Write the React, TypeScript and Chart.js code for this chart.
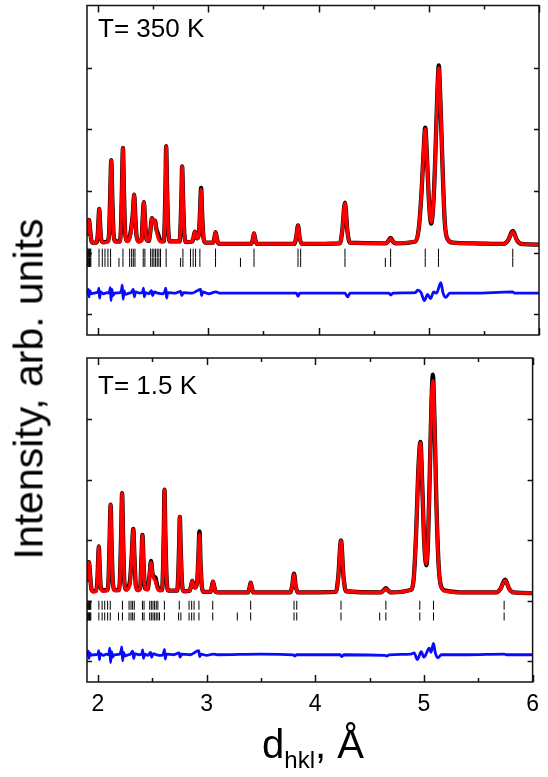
import React, { useEffect, useRef } from "react";
import { Chart, registerables } from "chart.js";

Chart.register(...registerables);

const FONT = "'Liberation Sans', Arial, Helvetica, sans-serif";

const X_MIN = 1.9;
const X_MAX = 6.0;
const Y_MIN = -1.34;
const Y_MAX = 4.015;
const xMajorTicks = [2, 3, 4, 5, 6];
const xMinorTicks = [2.5, 3.5, 4.5, 5.5];
const yTicks = [-1, 0, 1, 2, 3];

// ---------- T = 350 K ----------
const hotD = [
  1.900, 1.910, 1.918, 1.928, 1.940, 1.955, 1.985, 1.998, 2.005, 2.011,
  2.018, 2.028, 2.045, 2.085, 2.100, 2.110, 2.120, 2.130, 2.142, 2.160,
  2.195, 2.208, 2.217, 2.226, 2.235, 2.247, 2.265, 2.285, 2.300, 2.315,
  2.328, 2.338, 2.350, 2.370, 2.395, 2.405, 2.416, 2.427, 2.440, 2.460,
  2.475, 2.489, 2.503, 2.516, 2.530, 2.545, 2.565, 2.595, 2.605, 2.612,
  2.618, 2.626, 2.638, 2.655, 2.740, 2.750, 2.757, 2.763, 2.771, 2.783,
  2.800, 2.855, 2.868, 2.878, 2.888, 2.900, 2.915, 2.925, 2.935, 2.945,
  2.958, 2.975, 3.045, 3.057, 3.066, 3.076, 3.090, 3.110, 3.390, 3.405,
  3.415, 3.425, 3.440, 3.780, 3.798, 3.814, 3.828, 3.848, 4.195, 4.215,
  4.240, 4.262, 4.285, 4.610, 4.630, 4.654, 4.675, 4.700, 4.880, 4.910,
  4.935, 4.952, 4.968, 4.985, 5.003, 5.022, 5.045, 5.062, 5.078, 5.091,
  5.105, 5.125, 5.145, 5.170, 5.220, 5.400, 5.680, 5.720, 5.762, 5.800,
  5.840, 6.000,
];
const hotCalc = [
  0.30, 0.45, 0.53, 0.38, 0.19, 0.16, 0.16, 0.30, 0.55, 0.71,
  0.50, 0.22, 0.16, 0.17, 0.30, 0.90, 1.50, 0.85, 0.28, 0.17,
  0.17, 0.40, 1.05, 1.70, 1.00, 0.30, 0.18, 0.22, 0.35, 0.62,
  0.94, 0.60, 0.25, 0.17, 0.20, 0.55, 0.82, 0.50, 0.20, 0.19,
  0.35, 0.56, 0.50, 0.52, 0.35, 0.24, 0.18, 0.18, 0.50, 1.10,
  1.73, 1.05, 0.35, 0.18, 0.18, 0.50, 0.95, 1.40, 0.90, 0.30,
  0.17, 0.18, 0.26, 0.34, 0.28, 0.23, 0.30, 0.65, 1.02, 0.60,
  0.22, 0.16, 0.16, 0.25, 0.33, 0.25, 0.15, 0.14, 0.14, 0.22,
  0.31, 0.22, 0.14, 0.14, 0.25, 0.44, 0.25, 0.14, 0.15, 0.35,
  0.80, 0.35, 0.16, 0.15, 0.18, 0.23, 0.18, 0.15, 0.18, 0.40,
  1.00, 1.60, 2.01, 1.50, 0.80, 0.49, 0.90, 1.70, 2.60, 3.00,
  2.50, 1.40, 0.50, 0.22, 0.16, 0.15, 0.14, 0.20, 0.34, 0.20,
  0.14, 0.13,
];
const hotObs = [
  0.30, 0.45, 0.53, 0.38, 0.19, 0.16, 0.16, 0.30, 0.55, 0.71,
  0.50, 0.22, 0.17, 0.18, 0.30, 0.90, 1.50, 0.85, 0.28, 0.18,
  0.18, 0.40, 1.05, 1.70, 1.00, 0.30, 0.19, 0.24, 0.38, 0.62,
  0.94, 0.60, 0.26, 0.18, 0.20, 0.55, 0.82, 0.50, 0.21, 0.19,
  0.35, 0.56, 0.50, 0.52, 0.38, 0.30, 0.19, 0.18, 0.50, 1.10,
  1.73, 1.05, 0.35, 0.18, 0.18, 0.50, 0.95, 1.40, 0.90, 0.30,
  0.17, 0.18, 0.26, 0.34, 0.28, 0.23, 0.30, 0.65, 1.05, 0.60,
  0.22, 0.16, 0.16, 0.25, 0.33, 0.25, 0.15, 0.14, 0.14, 0.22,
  0.31, 0.22, 0.14, 0.14, 0.25, 0.44, 0.25, 0.14, 0.15, 0.35,
  0.81, 0.35, 0.16, 0.15, 0.18, 0.24, 0.18, 0.15, 0.18, 0.40,
  1.00, 1.60, 2.03, 1.50, 0.80, 0.47, 0.90, 1.70, 2.60, 3.04,
  2.50, 1.40, 0.50, 0.22, 0.16, 0.15, 0.14, 0.20, 0.35, 0.20,
  0.14, 0.13,
];
const hotDiffD = [
  1.900, 1.912, 1.918, 1.925, 1.940, 1.960, 2.000, 2.008, 2.014, 2.022,
  2.050, 2.080, 2.100, 2.112, 2.118, 2.126, 2.135, 2.150, 2.200, 2.214,
  2.220, 2.228, 2.236, 2.250, 2.280, 2.300, 2.320, 2.330, 2.340, 2.380,
  2.405, 2.412, 2.420, 2.432, 2.460, 2.485, 2.495, 2.510, 2.540, 2.590,
  2.608, 2.615, 2.622, 2.632, 2.700, 2.750, 2.760, 2.775, 2.850, 2.930,
  2.940, 2.950, 3.000, 3.070, 3.100, 3.800, 3.814, 3.830, 4.240, 4.265,
  4.285, 4.640, 4.655, 4.675, 4.880, 4.900, 4.930, 4.960, 4.990, 5.015,
  5.045, 5.070, 5.110, 5.130, 5.155, 5.190, 5.400, 5.760, 5.780, 6.000,
];
const hotDiff = [
  -0.66, -0.60, -0.72, -0.62, -0.67, -0.66, -0.64, -0.58, -0.74, -0.64,
  -0.67, -0.65, -0.66, -0.57, -0.78, -0.60, -0.70, -0.66, -0.65, -0.60,
  -0.53, -0.76, -0.62, -0.68, -0.66, -0.65, -0.60, -0.72, -0.64, -0.66,
  -0.64, -0.58, -0.72, -0.65, -0.67, -0.62, -0.70, -0.64, -0.66, -0.67,
  -0.62, -0.58, -0.74, -0.65, -0.66, -0.63, -0.70, -0.65, -0.66, -0.60,
  -0.70, -0.64, -0.67, -0.64, -0.66, -0.66, -0.71, -0.66, -0.66, -0.72,
  -0.66, -0.66, -0.69, -0.66, -0.65, -0.61, -0.65, -0.78, -0.68, -0.75,
  -0.64, -0.66, -0.49, -0.66, -0.73, -0.66, -0.66, -0.64, -0.66, -0.66,
];
const hotBraggA = [
  1.900, 1.905, 1.911, 1.917, 1.923, 1.929, 1.935, 2.009, 2.039, 2.063,
  2.090, 2.114, 2.226, 2.287, 2.305, 2.320, 2.335, 2.410, 2.425, 2.477,
  2.492, 2.507, 2.522, 2.537, 2.552, 2.567, 2.618, 2.770, 2.839, 2.863,
  2.885, 2.924, 3.066, 3.415, 3.814, 3.838, 4.240, 4.654, 4.968, 5.088,
  5.762,
];
const hotBraggB = [
  1.900, 1.905, 1.911, 1.917, 1.923, 1.929, 1.935, 2.009, 2.039, 2.063,
  2.090, 2.114, 2.190, 2.226, 2.287, 2.305, 2.320, 2.335, 2.410, 2.425,
  2.477, 2.492, 2.507, 2.522, 2.537, 2.552, 2.567, 2.618, 2.749, 2.770,
  2.839, 2.863, 2.885, 2.924, 3.066, 3.292, 3.415, 3.814, 3.838, 4.240,
  4.606, 4.654, 4.968, 5.088, 5.762,
];

// ---------- T = 1.5 K ----------
const coldD = [
  1.900, 1.910, 1.918, 1.928, 1.940, 1.955, 1.985, 1.997, 2.003, 2.009,
  2.016, 2.027, 2.045, 2.085, 2.098, 2.108, 2.117, 2.127, 2.139, 2.157,
  2.192, 2.205, 2.214, 2.223, 2.232, 2.244, 2.262, 2.283, 2.296, 2.310,
  2.326, 2.337, 2.349, 2.368, 2.390, 2.400, 2.410, 2.421, 2.434, 2.458,
  2.474, 2.489, 2.503, 2.518, 2.531, 2.545, 2.565, 2.590, 2.600, 2.607,
  2.613, 2.621, 2.633, 2.650, 2.730, 2.741, 2.748, 2.754, 2.762, 2.774,
  2.792, 2.845, 2.859, 2.869, 2.879, 2.895, 2.913, 2.924, 2.935, 2.945,
  2.958, 2.975, 3.038, 3.050, 3.059, 3.069, 3.083, 3.105, 3.380, 3.396,
  3.406, 3.416, 3.432, 3.770, 3.788, 3.805, 3.820, 3.840, 4.190, 4.212,
  4.237, 4.260, 4.283, 4.605, 4.626, 4.650, 4.672, 4.697, 4.875, 4.905,
  4.930, 4.947, 4.968, 4.985, 5.003, 5.022, 5.038, 5.055, 5.070, 5.082,
  5.097, 5.115, 5.135, 5.160, 5.200, 5.400, 5.665, 5.705, 5.747, 5.785,
  5.825, 6.000,
];
const coldCalc = [
  0.35, 0.55, 0.64, 0.45, 0.20, 0.15, 0.16, 0.40, 0.70, 0.90,
  0.60, 0.22, 0.16, 0.17, 0.35, 1.00, 1.59, 0.90, 0.28, 0.17,
  0.17, 0.45, 1.10, 1.78, 1.05, 0.30, 0.18, 0.22, 0.30, 0.70,
  1.19, 0.70, 0.25, 0.17, 0.22, 0.65, 1.09, 0.60, 0.20, 0.19,
  0.40, 0.64, 0.45, 0.36, 0.32, 0.22, 0.17, 0.18, 0.55, 1.20,
  1.84, 1.10, 0.35, 0.17, 0.17, 0.50, 0.95, 1.39, 0.90, 0.30,
  0.16, 0.17, 0.26, 0.33, 0.26, 0.22, 0.30, 0.70, 1.10, 0.62,
  0.22, 0.15, 0.15, 0.25, 0.32, 0.25, 0.15, 0.14, 0.14, 0.22,
  0.30, 0.22, 0.14, 0.14, 0.25, 0.44, 0.25, 0.14, 0.15, 0.40,
  1.00, 0.40, 0.16, 0.14, 0.17, 0.20, 0.17, 0.14, 0.18, 0.35,
  1.20, 2.10, 2.61, 1.90, 0.95, 0.61, 1.00, 2.20, 3.30, 3.64,
  3.00, 1.60, 0.60, 0.22, 0.16, 0.14, 0.14, 0.20, 0.34, 0.20,
  0.14, 0.13,
];
const coldObs = [
  0.35, 0.55, 0.64, 0.45, 0.20, 0.16, 0.17, 0.40, 0.70, 0.90,
  0.60, 0.22, 0.18, 0.18, 0.35, 1.00, 1.59, 0.90, 0.28, 0.18,
  0.18, 0.45, 1.10, 1.78, 1.05, 0.30, 0.19, 0.24, 0.34, 0.70,
  1.19, 0.70, 0.26, 0.18, 0.22, 0.65, 1.09, 0.60, 0.21, 0.19,
  0.40, 0.66, 0.45, 0.40, 0.38, 0.26, 0.18, 0.18, 0.55, 1.20,
  1.84, 1.10, 0.35, 0.17, 0.17, 0.50, 0.95, 1.39, 0.90, 0.30,
  0.16, 0.17, 0.26, 0.33, 0.26, 0.22, 0.30, 0.70, 1.15, 0.62,
  0.22, 0.15, 0.15, 0.25, 0.32, 0.25, 0.15, 0.14, 0.14, 0.22,
  0.30, 0.22, 0.14, 0.14, 0.25, 0.45, 0.25, 0.14, 0.15, 0.40,
  1.00, 0.40, 0.16, 0.14, 0.17, 0.21, 0.17, 0.14, 0.18, 0.35,
  1.20, 2.10, 2.63, 1.90, 0.95, 0.59, 1.00, 2.20, 3.30, 3.74,
  3.00, 1.60, 0.60, 0.23, 0.17, 0.14, 0.14, 0.20, 0.35, 0.20,
  0.14, 0.13,
];
const coldDiffD = [
  1.900, 1.912, 1.918, 1.925, 1.940, 1.960, 2.000, 2.008, 2.014, 2.022,
  2.050, 2.080, 2.100, 2.110, 2.117, 2.126, 2.135, 2.150, 2.200, 2.214,
  2.220, 2.228, 2.236, 2.250, 2.280, 2.300, 2.320, 2.330, 2.340, 2.380,
  2.405, 2.412, 2.420, 2.432, 2.460, 2.485, 2.495, 2.510, 2.540, 2.590,
  2.606, 2.613, 2.620, 2.630, 2.700, 2.748, 2.756, 2.770, 2.850, 2.928,
  2.938, 2.950, 3.000, 3.060, 3.100, 3.500, 3.800, 3.810, 3.830, 4.230,
  4.245, 4.265, 4.640, 4.660, 4.680, 4.880, 4.910, 4.940, 4.975, 5.000,
  5.050, 5.065, 5.088, 5.105, 5.130, 5.160, 5.400, 5.740, 5.760, 6.000,
];
const coldDiff = [
  -0.89, -0.83, -0.95, -0.86, -0.90, -0.89, -0.88, -0.82, -0.97, -0.87,
  -0.90, -0.88, -0.89, -0.78, -1.02, -0.84, -0.93, -0.89, -0.88, -0.82,
  -0.76, -0.99, -0.85, -0.91, -0.89, -0.88, -0.83, -0.95, -0.87, -0.89,
  -0.87, -0.81, -0.95, -0.88, -0.90, -0.85, -0.93, -0.87, -0.89, -0.90,
  -0.85, -0.80, -0.96, -0.88, -0.89, -0.86, -0.93, -0.88, -0.89, -0.82,
  -0.92, -0.88, -0.90, -0.88, -0.89, -0.88, -0.89, -0.91, -0.89, -0.89,
  -0.92, -0.89, -0.90, -0.91, -0.89, -0.88, -0.86, -0.97, -0.84, -0.93,
  -0.78, -0.85, -0.70, -0.86, -0.94, -0.89, -0.89, -0.88, -0.89, -0.89,
];
const coldBraggA = [
  1.900, 1.905, 1.911, 1.917, 1.923, 1.929, 1.935, 2.009, 2.039, 2.063,
  2.090, 2.114, 2.226, 2.287, 2.305, 2.320, 2.335, 2.410, 2.425, 2.477,
  2.492, 2.507, 2.522, 2.537, 2.552, 2.612, 2.749, 2.839, 2.863, 2.885,
  2.930, 3.057, 3.406, 3.805, 3.830, 4.237, 4.650, 4.962, 5.088, 5.738,
];
const coldBraggB = [
  1.900, 1.905, 1.911, 1.917, 1.923, 1.929, 1.935, 2.009, 2.039, 2.063,
  2.090, 2.114, 2.190, 2.226, 2.287, 2.305, 2.320, 2.335, 2.410, 2.425,
  2.477, 2.492, 2.507, 2.522, 2.537, 2.552, 2.567, 2.612, 2.743, 2.764,
  2.839, 2.863, 2.885, 2.930, 3.057, 3.283, 3.406, 3.805, 3.830, 4.237,
  4.593, 4.650, 4.962, 5.088, 5.738,
];

type Panel = {
  d: number[];
  calc: number[];
  obs: number[];
  diffD: number[];
  diff: number[];
  braggA: number[];
  braggB: number[];
  rowA: number;
  rowB: number;
  radA: number;
  radB: number;
};

const hotPanel: Panel = {
  d: hotD, calc: hotCalc, obs: hotObs, diffD: hotDiffD, diff: hotDiff,
  braggA: hotBraggA, braggB: hotBraggB, rowA: -0.01, rowB: -0.16, radA: 4.5, radB: 4.5,
};
const coldPanel: Panel = {
  d: coldD, calc: coldCalc, obs: coldObs, diffD: coldDiffD, diff: coldDiff,
  braggA: coldBraggA, braggB: coldBraggB, rowA: -0.072, rowB: -0.257, radA: 4.5, radB: 4.0,
};

function pts(xs: number[], ys: number[]) {
  return xs.map((x, i) => ({ x, y: ys[i] }));
}
function rowPts(xs: number[], y: number) {
  return xs.map((x) => ({ x, y }));
}

const frameTicks = {
  id: "frameTicks",
  afterDatasetsDraw(chart: any) {
    const { ctx, chartArea: a } = chart;
    const xs = chart.scales.x;
    const ys = chart.scales.y;
    ctx.save();
    ctx.strokeStyle = "#111";
    ctx.lineWidth = 1.5;
    ctx.beginPath();
    const xt = (vals: number[], len: number) => {
      for (const v of vals) {
        const px = Math.round(xs.getPixelForValue(v)) + 0.5;
        ctx.moveTo(px, a.bottom);
        ctx.lineTo(px, a.bottom - len);
        ctx.moveTo(px, a.top);
        ctx.lineTo(px, a.top + len);
      }
    };
    xt(xMajorTicks, 7);
    xt(xMinorTicks, 4);
    for (const v of yTicks) {
      const py = Math.round(ys.getPixelForValue(v)) + 0.5;
      ctx.moveTo(a.left, py);
      ctx.lineTo(a.left + 5, py);
      ctx.moveTo(a.right, py);
      ctx.lineTo(a.right - 5, py);
    }
    ctx.stroke();
    ctx.strokeRect(a.left, a.top, a.right - a.left, a.bottom - a.top);
    ctx.restore();
  },
};

function makeConfig(p: Panel, showX: boolean, padding: any): any {
  const line = (data: any, color: string, width: number) => ({
    data,
    showLine: true,
    borderColor: color,
    borderWidth: width,
    pointRadius: 0,
    cubicInterpolationMode: "monotone",
    borderJoinStyle: "round",
    borderCapStyle: "round",
  });
  const bragg = (xs: number[], y: number, r: number) => ({
    data: rowPts(xs, y),
    showLine: false,
    pointStyle: "line",
    pointRotation: 90,
    pointRadius: r,
    borderColor: "#000",
    pointBorderColor: "#000",
    borderWidth: 1,
    pointBorderWidth: 1,
  });
  return {
    type: "scatter",
    data: {
      datasets: [
        line(pts(p.d, p.calc), "#ff0000", 3.4),
        line(pts(p.d, p.obs), "#000000", 4.3),
        line(pts(p.diffD, p.diff), "#0a0aff", 2.8),
        bragg(p.braggA, p.rowA, p.radA),
        bragg(p.braggB, p.rowB, p.radB),
      ],
    },
    options: {
      responsive: false,
      animation: false,
      events: [],
      layout: { padding },
      plugins: { legend: { display: false }, tooltip: { enabled: false } },
      scales: {
        x: {
          type: "linear",
          min: X_MIN,
          max: X_MAX,
          display: showX,
          grid: { display: false, drawTicks: false },
          border: { display: false },
          ticks: {
            font: { family: FONT, size: 23 },
            color: "#000",
            padding: 9,
            maxRotation: 0,
            autoSkip: false,
          },
          afterBuildTicks: (s: any) => {
            s.ticks = xMajorTicks.map((v) => ({ value: v }));
          },
        },
        y: { type: "linear", min: Y_MIN, max: Y_MAX, display: false },
      },
    },
    plugins: [frameTicks],
  };
}

export default function App() {
  const topRef = useRef<HTMLCanvasElement>(null);
  const botRef = useRef<HTMLCanvasElement>(null);

  useEffect(() => {
    const c1 = new Chart(
      topRef.current as HTMLCanvasElement,
      makeConfig(hotPanel, false, { left: 87, right: 9, top: 3, bottom: 10 })
    );
    const c2 = new Chart(
      botRef.current as HTMLCanvasElement,
      makeConfig(coldPanel, true, { left: 87, right: 9, top: 13, bottom: 49.4 })
    );
    return () => {
      c1.destroy();
      c2.destroy();
    };
  }, []);

  const textBase: React.CSSProperties = {
    position: "absolute",
    fontFamily: FONT,
    color: "#000",
    whiteSpace: "nowrap",
  };

  return (
    <div style={{ position: "absolute", left: 0, top: 0, width: 548, height: 777, background: "#fff", overflow: "hidden" }}>
      <canvas ref={topRef} width={548} height={345} style={{ position: "absolute", left: 0, top: 0 }} />
      <canvas ref={botRef} width={548} height={432} style={{ position: "absolute", left: 0, top: 345 }} />
      <div style={{ ...textBase, left: 98, top: 15, fontSize: 26, lineHeight: "26px" }}>T= 350 K</div>
      <div style={{ ...textBase, left: 98, top: 372, fontSize: 26, lineHeight: "26px" }}>T= 1.5 K</div>
      <div
        style={{
          ...textBase,
          left: 28.5,
          top: 388.5,
          fontSize: 41,
          lineHeight: "41px",
          transform: "translate(-50%, -50%) rotate(-90deg)",
        }}
      >
        Intensity, arb. units
      </div>
      <div
        style={{
          ...textBase,
          left: 313,
          top: 724,
          fontSize: 40,
          lineHeight: "40px",
          transform: "translateX(-50%)",
        }}
      >
        d<span style={{ fontSize: 24, position: "relative", top: 10 }}>hkl</span>, Å
      </div>
    </div>
  );
}
